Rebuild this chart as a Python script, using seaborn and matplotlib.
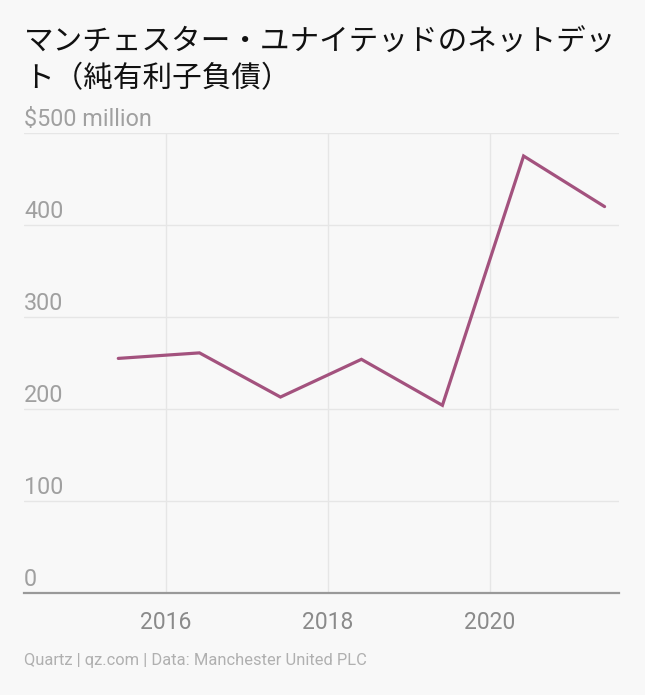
import pandas as pd
import matplotlib
matplotlib.use("Agg")
import matplotlib.pyplot as plt
import seaborn as sns

# fiscal year points (Manchester United net debt, $ million)
dates = ["2015-05-31", "2016-05-31", "2017-05-31", "2018-05-31",
         "2019-05-31", "2020-05-31", "2021-05-31"]
net_debt = [255, 261, 213, 254, 204, 475, 420]

y_ticks = [0, 100, 200, 300, 400, 500]
y_labels = ["0", "100", "200", "300", "400", "$500 million"]
x_ticks = ["2016-01-01", "2018-01-01", "2020-01-01"]
x_labels = ["2016", "2018", "2020"]

title = "マンチェスター・ユナイテッドのネットデッ\nト（純有利子負債）"
footer = "Quartz | qz.com | Data: Manchester United PLC"


def plot_chart(df):
    bg = "#f8f8f8"
    sns.set_theme(style="white")
    plt.rcParams['font.family'] = ['Roboto', 'DejaVu Sans']

    fig = plt.figure(figsize=(6.45, 6.95), dpi=100, facecolor=bg)
    ax = fig.add_axes([24 / 645, 1 - 593 / 695, 595 / 645, 460 / 695])
    ax.set_facecolor(bg)

    sns.lineplot(data=df, x="date", y="value", ax=ax, color="#a3527e",
                 linewidth=2.3, solid_joinstyle="miter")

    ax.set_ylim(0, 500)
    ax.set_xlim(pd.Timestamp("2014-04-01"), pd.Timestamp("2021-08-04"))

    ax.set_yticks(y_ticks)
    ax.set_yticklabels([])
    ax.set_xticks(pd.to_datetime(x_ticks))
    ax.set_xticklabels(x_labels, color="#8a8a8a", fontsize=16.5)
    ax.tick_params(axis="both", length=0)
    ax.tick_params(axis="x", pad=13)

    for v in y_ticks[1:]:
        ax.axhline(v, color="#e6e6e6", linewidth=1, zorder=0)
    for t in pd.to_datetime(x_ticks):
        ax.axvline(t, color="#e6e6e6", linewidth=1, zorder=0)

    for v, lab in zip(y_ticks, y_labels):
        ax.text(0, v + 2, lab, transform=ax.get_yaxis_transform(),
                ha="left", va="bottom", fontsize=16.8, color="#a0a0a0")

    for s in ["top", "right", "left"]:
        ax.spines[s].set_visible(False)
    ax.spines["bottom"].set_color("#999999")
    ax.spines["bottom"].set_linewidth(1.6)
    ax.set_xlabel("")
    ax.set_ylabel("")

    fig.text(24 / 645, 1 - 27 / 695, title, ha="left", va="top",
             fontsize=21.3, color="#111111", linespacing=1.2,
             family=["Noto Sans CJK JP", "DejaVu Sans"])
    fig.text(24 / 645, 1 - 661 / 695, footer, ha="left", va="center",
             fontsize=11.9, color="#b0b0b0")

    fig.savefig("out.png", dpi=100, facecolor=bg)


def main():
    df = pd.DataFrame({"date": pd.to_datetime(dates), "value": net_debt})
    plot_chart(df)


if __name__ == '__main__':
    main()
